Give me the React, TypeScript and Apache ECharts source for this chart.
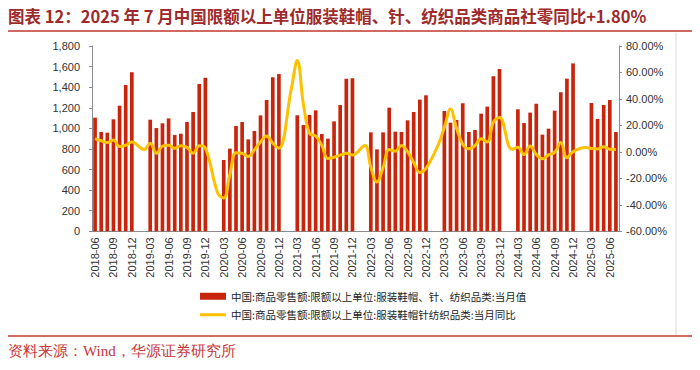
import React, { useEffect, useRef } from "react";
import * as echarts from "echarts";

const START_YEAR = 2018;
const START_MONTH = 6;
const END_YEAR = 2025;
const END_MONTH = 7;

const categories: string[] = [];
for (let y = START_YEAR; y <= END_YEAR; y++) {
  for (let m = 1; m <= 12; m++) {
    if (y === START_YEAR && m < START_MONTH) continue;
    if (y === END_YEAR && m > END_MONTH) continue;
    categories.push(`${y}-${m < 10 ? "0" + m : m}`);
  }
}

// 当月值（亿元），1-2月无单月数据
const value2018 = [1104, 965, 958, 1088, 1220, 1421, 1544];
const value2019 = [null, null, 1084, 1003, 1049, 1097, 935, 948, 1062, 1159, 1431, 1492];
const value2020 = [null, null, 693, 803, 1023, 1062, 893, 974, 1126, 1275, 1496, 1528];
const value2021 = [null, null, 1127, 1033, 1130, 1175, 945, 900, 1068, 1227, 1483, 1486];
const value2022 = [null, null, 961, 796, 961, 1201, 968, 965, 1078, 1159, 1279, 1321];
const value2023 = [null, null, 1169, 1055, 1081, 1243, 965, 984, 1143, 1211, 1505, 1576];
const value2024 = [null, null, 1185, 1052, 1153, 1240, 939, 997, 1172, 1350, 1483, 1631];
const value2025 = [null, null, 1246, 1091, 1227, 1275, 965];

// 当月同比（%），2月为1-2月累计同比
const yoy2018 = [10.0, 8.4, 7.0, 9.0, 4.0, 5.0, 7.4];
const yoy2019 = [null, 1.8, 6.6, -1.1, 4.4, 5.0, 2.7, 4.7, 3.4, -1.1, 4.6, 3.0];
const yoy2020 = [null, -30.9, -34.8, -17.0, -0.6, -1.0, -3.5, 1.5, 7.5, 12.0, 6.5, 2.8];
const yoy2021 = [null, 47.0, 69.0, 36.0, 14.0, 12.0, 5.0, -5.0, -4.0, -2.5, -1.0, -2.3];
const yoy2022 = [null, 4.9, -11.5, -22.8, -12.0, 1.8, 0.5, 4.8, 0.0, -8.0, -15.6, -12.5];
const yoy2023 = [null, 5.4, 18.5, 32.4, 17.6, 5.8, 2.3, 4.8, 9.9, 7.5, 22.5, 26.0];
const yoy2024 = [null, 1.9, 3.5, -2.0, 4.4, -1.9, -5.2, -2.3, -0.4, 7.0, -4.5, 0.1];
const yoy2025 = [null, 3.3, 2.6, 2.2, 3.8, 1.9, 1.8];

const barValues = [
  ...value2018, ...value2019, ...value2020, ...value2021,
  ...value2022, ...value2023, ...value2024, ...value2025,
];
const lineValues = [
  ...yoy2018, ...yoy2019, ...yoy2020, ...yoy2021,
  ...yoy2022, ...yoy2023, ...yoy2024, ...yoy2025,
];

const TITLE = "图表 12：2025 年 7 月中国限额以上单位服装鞋帽、针、纺织品类商品社零同比+1.80%";
const BAR_NAME = "中国:商品零售额:限额以上单位:服装鞋帽、针、纺织品类:当月值";
const LINE_NAME = "中国:商品零售额:限额以上单位:服装鞋帽针纺织品类:当月同比";
const SOURCE = "资料来源：Wind，华源证券研究所";

export default function App() {
  const ref = useRef<HTMLDivElement>(null);
  useEffect(() => {
    if (!ref.current) return;
    const chart = echarts.init(ref.current, undefined, { renderer: "svg" });
    const axisColor = "#8c8c8c";
    chart.setOption({
      animation: false,
      backgroundColor: "#ffffff",
      title: {
        text: TITLE,
        left: 8,
        top: 8,
        padding: 0,
        textStyle: {
          fontSize: 16.5,
          fontWeight: "bold",
          color: "#9e2a2b",
          fontFamily: "Noto Sans CJK SC",
        },
      },
      legend: {
        orient: "vertical",
        left: 200,
        top: 291,
        itemWidth: 26,
        itemHeight: 7,
        itemGap: 8,
        padding: 0,
        textStyle: { fontSize: 10.5, color: "#222", fontFamily: "Noto Sans CJK SC" },
        data: [
          { name: BAR_NAME, icon: "rect" },
          { name: LINE_NAME, icon: "path://M0,0L26,0L26,3L0,3Z", itemStyle: { color: "#ffc000" } },
        ],
      },
      grid: { left: 92, right: 81, top: 46, bottom: 138.7, containLabel: false },
      xAxis: {
        type: "category",
        data: categories,
        boundaryGap: true,
        axisLine: { lineStyle: { color: axisColor } },
        axisTick: { interval: 2, length: 3, lineStyle: { color: axisColor } },
        axisLabel: {
          interval: 2,
          rotate: 90,
          fontSize: 11,
          color: "#333",
          fontFamily: "Liberation Sans",
          margin: 6,
        },
        splitLine: { show: false },
      },
      yAxis: [
        {
          type: "value",
          min: 0,
          max: 1800,
          interval: 200,
          position: "left",
          axisLine: { show: true, lineStyle: { color: axisColor } },
          axisTick: { show: true, length: 3, lineStyle: { color: axisColor } },
          axisLabel: {
            fontSize: 11,
            color: "#333",
            fontFamily: "Liberation Sans",
            margin: 12,
            formatter: (v: number) => v.toLocaleString("en-US"),
          },
          splitLine: { show: false },
        },
        {
          type: "value",
          min: -60,
          max: 80,
          interval: 20,
          position: "right",
          axisLine: { show: true, lineStyle: { color: axisColor } },
          axisTick: { show: true, length: 3, lineStyle: { color: axisColor } },
          axisLabel: {
            fontSize: 11,
            color: "#333",
            fontFamily: "Liberation Sans",
            margin: 7,
            formatter: (v: number) => v.toFixed(2) + "%",
          },
          splitLine: { show: false },
        },
      ],
      series: [
        {
          name: BAR_NAME,
          type: "bar",
          yAxisIndex: 0,
          data: barValues,
          barWidth: "60%",
          itemStyle: { color: "#c8250c" },
        },
        {
          name: LINE_NAME,
          type: "line",
          yAxisIndex: 1,
          data: lineValues,
          smooth: 0.4,
          connectNulls: true,
          symbol: "none",
          lineStyle: { color: "#ffc000", width: 3 },
          itemStyle: { color: "#ffc000" },
          z: 3,
        },
      ],
      graphic: [
        {
          type: "line",
          shape: { x1: 8, y1: 31, x2: 692, y2: 31 },
          style: { stroke: "#c0392b", lineWidth: 1.5 },
        },
        {
          type: "line",
          shape: { x1: 676, y1: 33, x2: 676, y2: 335 },
          style: { stroke: "#d9d9d9", lineWidth: 1 },
        },
        {
          type: "line",
          shape: { x1: 8, y1: 336, x2: 692, y2: 336 },
          style: { stroke: "#c0392b", lineWidth: 1.5 },
        },
        {
          type: "text",
          left: 8,
          top: 343,
          style: {
            text: SOURCE,
            fill: "#c8363a",
            fontSize: 15,
            fontFamily: "serif",
          },
        },
      ],
    });
    return () => chart.dispose();
  }, []);
  return (
    <div
      ref={ref}
      style={{ position: "fixed", left: 0, top: 0, width: 700, height: 370 }}
    />
  );
}
